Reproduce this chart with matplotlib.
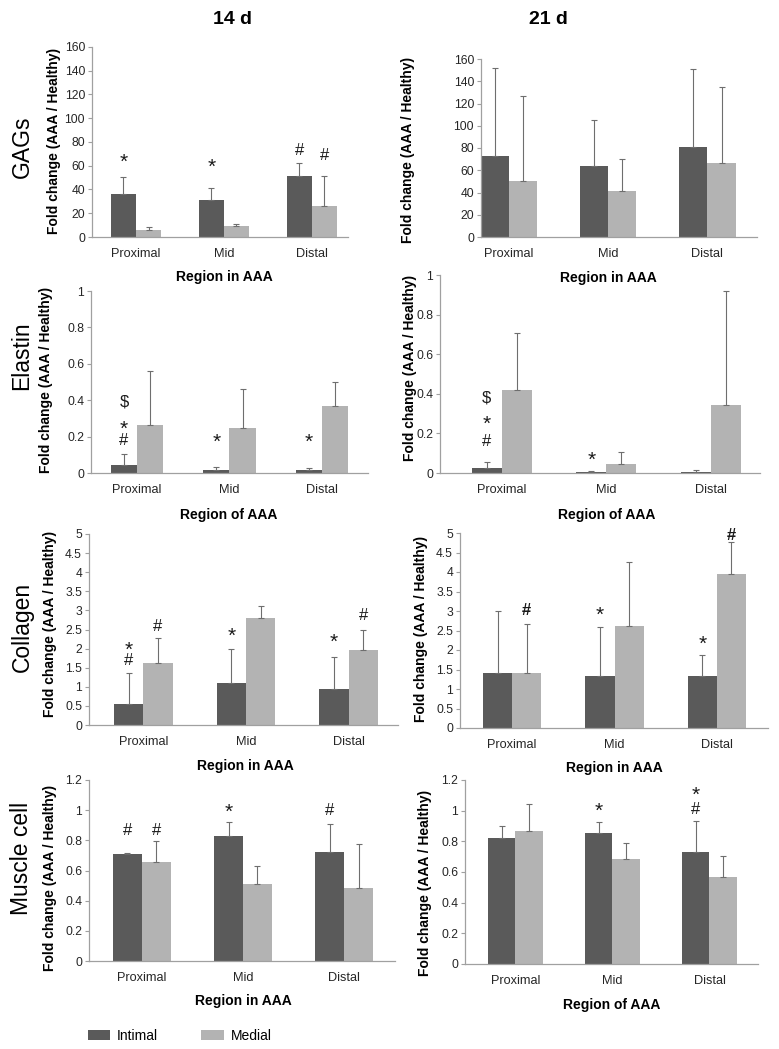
import numpy as np
import matplotlib
matplotlib.use("Agg")
import matplotlib.pyplot as plt

plt.rcParams['font.family'] = ['Liberation Sans', 'DejaVu Sans']

W, H = 779, 1049

regions = ["Proximal", "Mid", "Distal"]
series_names = ["Intimal", "Medial"]
days = ["14 d", "21 d"]
rows = ["GAGs", "Elastin", "Collagen", "Muscle cell"]

# mean / SD (intimal, medial)
gag14_int = [36.5, 31.5, 51.5]
gag14_int_sd = [14, 9.5, 11]
gag14_med = [5.5, 9.5, 26.5]
gag14_med_sd = [3, 1.5, 25]

gag21_int = [73, 64, 80.5]
gag21_int_sd = [79, 41, 70.5]
gag21_med = [50, 41, 66.5]
gag21_med_sd = [77, 29, 68.5]

ela14_int = [0.046, 0.015, 0.018]
ela14_int_sd = [0.058, 0.018, 0.008]
ela14_med = [0.265, 0.248, 0.369]
ela14_med_sd = [0.295, 0.212, 0.131]

ela21_int = [0.027, 0.003, 0.007]
ela21_int_sd = [0.028, 0.007, 0.008]
ela21_med = [0.417, 0.044, 0.343]
ela21_med_sd = [0.289, 0.06, 0.575]

col14_int = [0.54, 1.09, 0.95]
col14_int_sd = [0.83, 0.91, 0.82]
col14_med = [1.61, 2.79, 1.96]
col14_med_sd = [0.68, 0.32, 0.53]

col21_int = [1.40, 1.33, 1.33]
col21_int_sd = [1.61, 1.27, 0.55]
col21_med = [1.40, 2.62, 3.95]
col21_med_sd = [1.26, 1.63, 0.81]

mus14_int = [0.712, 0.83, 0.723]
mus14_int_sd = [0.007, 0.09, 0.187]
mus14_med = [0.657, 0.509, 0.482]
mus14_med_sd = [0.14, 0.124, 0.296]

mus21_int = [0.824, 0.852, 0.729]
mus21_int_sd = [0.076, 0.076, 0.206]
mus21_med = [0.865, 0.688, 0.566]
mus21_med_sd = [0.178, 0.099, 0.141]

# significance marks: (region, series, symbol, y, bold)
gag14_marks = [(0, 0, '*', 67, False), (1, 0, '*', 63, False),
               (2, 0, '#', 72.5, False), (2, 1, '#', 69, False)]
gag21_marks = []
ela14_marks = [(0, 0, '$', 0.39, False), (0, 0, '*', 0.27, False), (0, 0, '#', 0.18, False),
               (1, 0, '*', 0.195, False), (2, 0, '*', 0.195, False)]
ela21_marks = [(0, 0, '$', 0.378, False), (0, 0, '*', 0.272, False), (0, 0, '#', 0.16, False),
               (1, 0, '*', 0.087, False)]
col14_marks = [(0, 0, '*', 2.09, False), (0, 0, '#', 1.69, False), (0, 1, '#', 2.57, False),
               (1, 0, '*', 2.44, False), (2, 0, '*', 2.29, False), (2, 1, '#', 2.86, False)]
col21_marks = [(0, 1, '#', 3.01, True), (1, 0, '*', 3.01, False),
               (2, 0, '*', 2.27, False), (2, 1, '#', 4.93, True)]
mus14_marks = [(0, 0, '#', 0.867, False), (0, 1, '#', 0.867, False),
               (1, 0, '*', 1.02, False), (2, 0, '#', 1.0, False)]
mus21_marks = [(1, 0, '*', 1.026, False), (2, 0, '#', 1.01, False), (2, 0, '*', 1.13, False)]

gag_ticks = np.arange(0, 161, 20)
ela_ticks = np.arange(0, 1.01, 0.2)
col_ticks = np.arange(0, 5.01, 0.5)
mus_ticks = np.arange(0, 1.21, 0.2)

c_int = '#5a5a5a'
c_med = '#b3b3b3'
c_axis = '#a0a0a0'
bw = 0.285

# panel: data, pixel box (left, top, right, bottom), xlim, ylabel pos, xlabel text/pos
panels = [
    dict(i=gag14_int, isd=gag14_int_sd, m=gag14_med, msd=gag14_med_sd, marks=gag14_marks,
         ticks=gag_ticks, box=(92, 47, 348, 237), xlim=(-0.5, 2.41),
         yl=(54, 141), xl="Region in AAA", xlp=(224, 277)),
    dict(i=gag21_int, isd=gag21_int_sd, m=gag21_med, msd=gag21_med_sd, marks=gag21_marks,
         ticks=gag_ticks, box=(481, 59, 757, 237), xlim=(-0.28, 2.5),
         yl=(408, 150), xl="Region in AAA", xlp=(608, 278)),
    dict(i=ela14_int, isd=ela14_int_sd, m=ela14_med, msd=ela14_med_sd, marks=ela14_marks,
         ticks=ela_ticks, box=(91, 291, 368, 473), xlim=(-0.5, 2.5),
         yl=(46, 380), xl="Region of AAA", xlp=(229, 515)),
    dict(i=ela21_int, isd=ela21_int_sd, m=ela21_med, msd=ela21_med_sd, marks=ela21_marks,
         ticks=ela_ticks, box=(440, 275, 760, 473), xlim=(-0.59, 2.47),
         yl=(410, 368), xl="Region of AAA", xlp=(607, 515)),
    dict(i=col14_int, isd=col14_int_sd, m=col14_med, msd=col14_med_sd, marks=col14_marks,
         ticks=col_ticks, box=(89, 534, 398, 725), xlim=(-0.53, 2.48),
         yl=(50, 624), xl="Region in AAA", xlp=(245, 766)),
    dict(i=col21_int, isd=col21_int_sd, m=col21_med, msd=col21_med_sd, marks=col21_marks,
         ticks=col_ticks, box=(460, 533, 768, 728), xlim=(-0.51, 2.5),
         yl=(421, 629), xl="Region in AAA", xlp=(614, 768)),
    dict(i=mus14_int, isd=mus14_int_sd, m=mus14_med, msd=mus14_med_sd, marks=mus14_marks,
         ticks=mus_ticks, box=(89, 780, 395, 961), xlim=(-0.52, 2.5),
         yl=(50, 878), xl="Region in AAA", xlp=(243, 1001)),
    dict(i=mus21_int, isd=mus21_int_sd, m=mus21_med, msd=mus21_med_sd, marks=mus21_marks,
         ticks=mus_ticks, box=(465, 780, 758, 964), xlim=(-0.52, 2.5),
         yl=(425, 883), xl="Region of AAA", xlp=(612, 1005)),
]

fig = plt.figure(figsize=(W / 100, H / 100), dpi=100)


def fx(px):
    return px / W


def fy(py):
    return 1 - py / H


handles = None
for p in panels:
    l, t, r, b = p['box']
    ax = fig.add_axes([fx(l), fy(b), (r - l) / W, (b - t) / H])
    x = np.arange(len(regions))
    hi = ax.bar(x - bw / 2, p['i'], bw, color=c_int, zorder=2)
    hm = ax.bar(x + bw / 2, p['m'], bw, color=c_med, zorder=2)
    for xs, vals, sds in [(x - bw / 2, p['i'], p['isd']), (x + bw / 2, p['m'], p['msd'])]:
        ax.errorbar(xs, vals, yerr=[np.zeros(len(vals)), sds], fmt='none',
                    ecolor='#6e6e6e', elinewidth=0.8, capsize=2.2, capthick=0.8, zorder=3)
    handles = [hi, hm]
    for g, s, sym, yv, bold in p['marks']:
        xx = g + (bw / 2 if s else -bw / 2)
        if sym == '*':
            fs, dy = 15, -3.6
        else:
            fs, dy = 12, 0
        ax.annotate(sym, (xx, yv), xytext=(0, dy), textcoords='offset points',
                    ha='center', va='center', fontsize=fs,
                    fontweight='bold' if bold else 'normal', color='#1a1a1a')
    ticks = p['ticks']
    ax.set_ylim(0, ticks[-1])
    ax.set_xlim(*p['xlim'])
    ax.set_yticks(ticks)
    ax.set_yticklabels([f"{v:g}" for v in np.round(ticks, 2)], fontsize=8.7, color='#262626')
    ax.set_xticks(x)
    ax.set_xticklabels(regions, fontsize=9.2, color='#262626')
    ax.tick_params(axis='x', length=0, pad=8)
    ax.tick_params(axis='y', length=3, width=0.8, color=c_axis, pad=2)
    for side in ['top', 'right']:
        ax.spines[side].set_visible(False)
    for side in ['left', 'bottom']:
        ax.spines[side].set_color(c_axis)
        ax.spines[side].set_linewidth(0.9)
    fig.text(fx(p['yl'][0]), fy(p['yl'][1]), "Fold change (AAA / Healthy)", rotation=90,
             ha='center', va='center', fontsize=10, fontweight='bold')
    fig.text(fx(p['xlp'][0]), fy(p['xlp'][1]), p['xl'], ha='center', va='center',
             fontsize=10, fontweight='bold')

# column headers and row labels
for txt, cx in zip(days, [233, 548]):
    fig.text(fx(cx), fy(20), txt, ha='center', va='center', fontsize=14, fontweight='bold')
for txt, cy in zip(rows, [147, 356, 627, 858]):
    fig.text(fx(22), fy(cy), txt, rotation=90, ha='center', va='center', fontsize=16.5)

fig.legend(handles, series_names, loc='center left', bbox_to_anchor=(fx(88), fy(1036)),
           ncol=2, frameon=False, fontsize=10, handlelength=1.6, handleheight=0.75,
           handletextpad=0.5, columnspacing=3.1, borderpad=0, borderaxespad=0)

fig.savefig("out.png", dpi=100)
